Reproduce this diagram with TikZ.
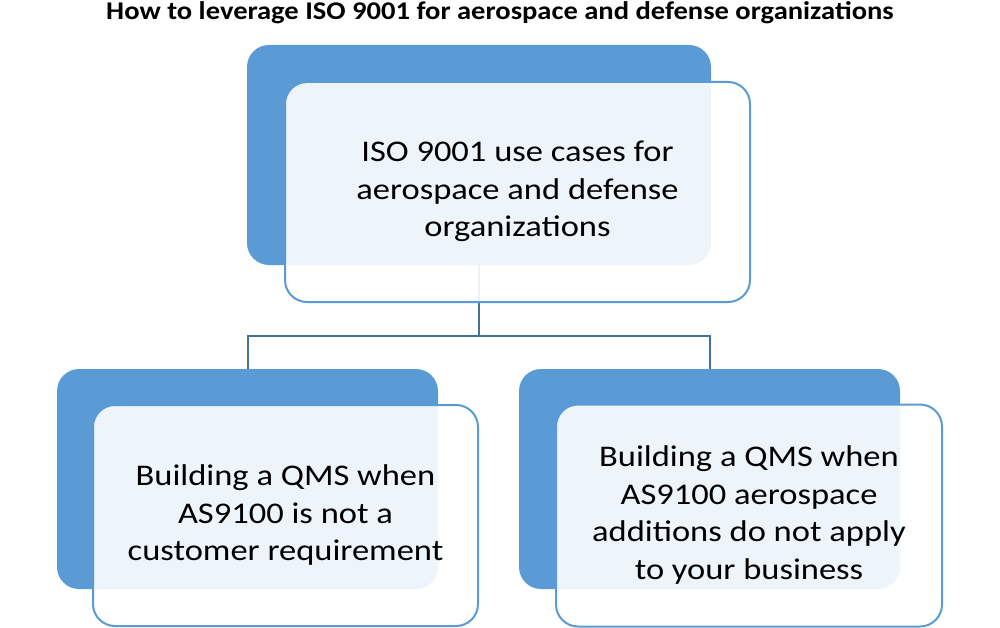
\documentclass[tikz,border=0pt]{standalone}
\usepackage{fontspec}
\usepackage{graphicx}
\setmainfont{Carlito}
\definecolor{accent}{HTML}{5B9BD5}
\definecolor{linkc}{HTML}{41719C}
\newcommand\widetext[1]{\scalebox{1.15}[1]{\begin{tabular}{@{}c@{}}#1\end{tabular}}}
\begin{document}
\begin{tikzpicture}[x=1pt,y=1pt,
  backbox/.style={fill=accent, draw=none, rounded corners=22pt, inner sep=0pt},
  frontbox/.style={fill=white, fill opacity=0.9, text opacity=1, draw=accent, line width=2pt,
     rounded corners=22pt, inner sep=0pt, align=center, font=\fontsize{30}{37.5}\selectfont},
  conn/.style={draw=linkc, line width=2pt}]
\useasboundingbox (0,0) rectangle (1000,-628);
\node[font=\fontsize{25.5}{30}\selectfont\bfseries] (title) at (500,-13) {\scalebox{1.12}[1]{How to leverage ISO 9001 for aerospace and defense organizations}};
% back boxes
\node[backbox, minimum width=464pt, minimum height=220pt] (tb) at (479,-155) {};
\node[backbox, minimum width=381pt, minimum height=220pt] (lb) at (247.5,-479) {};
\node[backbox, minimum width=381pt, minimum height=220pt] (rb) at (709.5,-479) {};
% connectors
\coordinate (j) at (479,-336);
\draw[conn] (tb.south) -- (j);
\draw[conn] (lb.north) |- (j) -| (rb.north);
% front boxes
\node[frontbox, minimum width=465pt, minimum height=220pt] (tf) at (517.5,-192) {\widetext{ISO 9001 use cases for\\aerospace and defense\\organizations}};
\node[frontbox, minimum width=385pt, minimum height=221pt] (lf) at (285.5,-515.5) {\widetext{Building a QMS when\\AS9100 is not a\\customer requirement}};
\node[frontbox, minimum width=386pt, minimum height=222pt] (rf) at (749,-515.5) {\widetext{Building a QMS when\\AS9100 aerospace\\additions do not apply\\to your business}};
\end{tikzpicture}
\end{document}
